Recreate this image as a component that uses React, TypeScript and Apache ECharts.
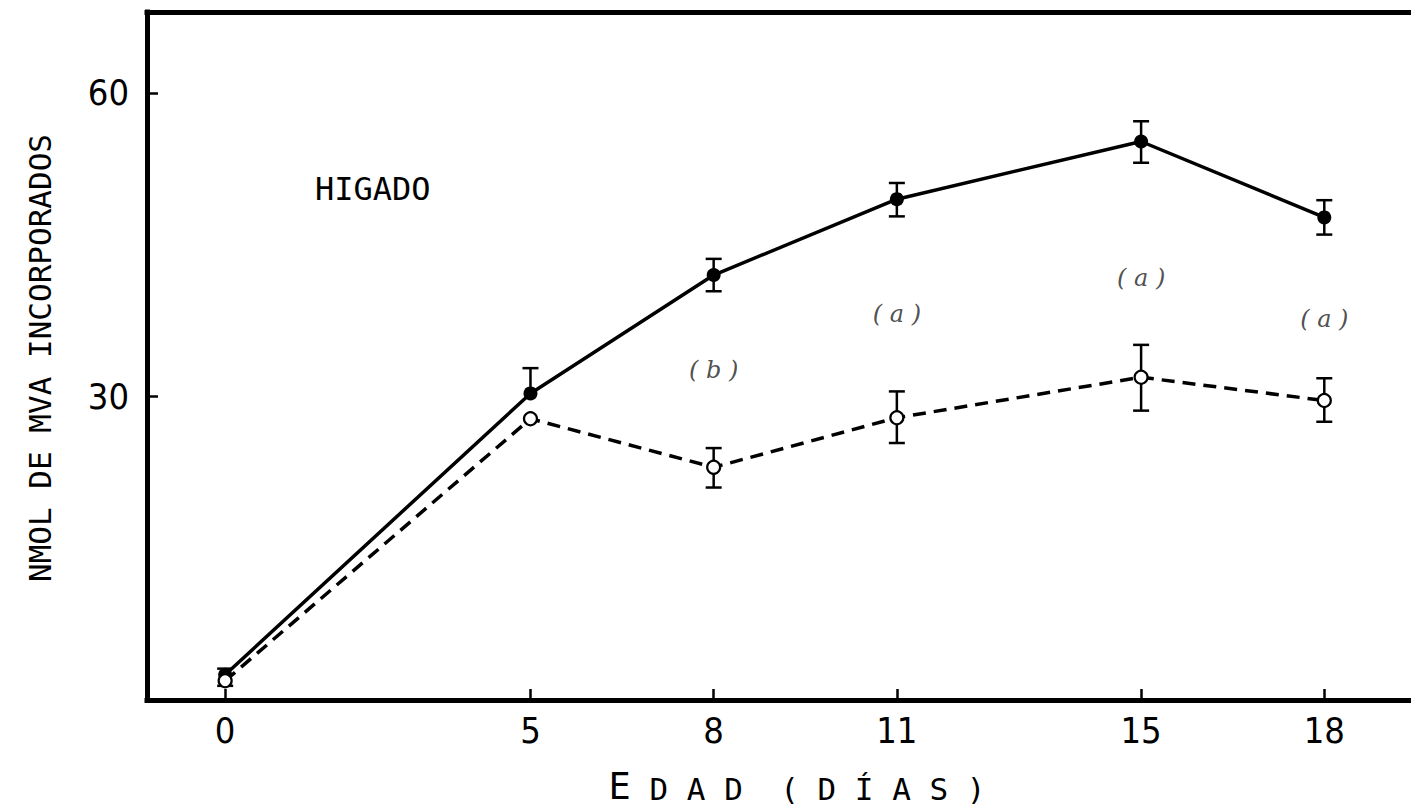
import React, { useEffect, useRef } from "react";
import * as echarts from "echarts";

// ---- data ----
const ages = [0, 5, 8, 11, 15, 18];
const controlValues = [2.5, 30.3, 42.0, 49.5, 55.2, 47.7];
const controlErrUp = [0.6, 2.5, 1.6, 1.6, 2.0, 1.7];
const controlErrDown = [0, 0, 1.6, 1.7, 2.1, 1.7];
const treatedValues = [1.9, 27.8, 23.0, 27.9, 31.9, 29.6];
const treatedErrUp = [0, 0, 1.9, 2.6, 3.2, 2.2];
const treatedErrDown = [0.5, 0, 2.0, 2.5, 3.3, 2.1];
const annotAges = [8, 11, 15, 18];
const annotValues = [32.6, 38.2, 41.7, 37.7];
const annotLabels = ["( b )", "( a )", "( a )", "( a )"];
const xTicks = [0, 5, 8, 11, 15, 18];
const yTicks = [30, 60];
const panelLabel = "HIGADO";
const xTitleFirst = "E";
const xTitleRest = " D A D  ( D Í A S )";
const yTitle = "NMOL DE MVA INCORPORADOS";

const tickFont = "'Liberation Sans Narrow', 'DejaVu Sans Condensed', 'Liberation Sans', sans-serif";
const monoFont = "'DejaVu Sans Mono', 'Liberation Mono', monospace";

function errorBarSeries(values: number[], up: number[], down: number[]) {
  return {
    type: "custom",
    z: 3,
    data: ages.map((a, i) => [a, values[i], up[i], down[i]]),
    encode: { x: 0, y: 1 },
    renderItem: (_params: any, api: any) => {
      const x = api.value(0);
      const y = api.value(1);
      const u = api.value(2);
      const d = api.value(3);
      const mid = api.coord([x, y]);
      const hw = 8;
      const style = { stroke: "#000", lineWidth: 2.5 };
      const children: any[] = [];
      if (u > 0) {
        const t = api.coord([x, y + u]);
        children.push({ type: "line", shape: { x1: t[0], y1: t[1], x2: mid[0], y2: mid[1] }, style });
        children.push({ type: "line", shape: { x1: t[0] - hw, y1: t[1], x2: t[0] + hw, y2: t[1] }, style });
      }
      if (d > 0) {
        const b = api.coord([x, y - d]);
        children.push({ type: "line", shape: { x1: b[0], y1: b[1], x2: mid[0], y2: mid[1] }, style });
        children.push({ type: "line", shape: { x1: b[0] - hw, y1: b[1], x2: b[0] + hw, y2: b[1] }, style });
      }
      return { type: "group", children };
    },
  };
}

export default function App() {
  const ref = useRef<HTMLDivElement>(null);
  useEffect(() => {
    if (!ref.current) return;
    const chart = echarts.init(ref.current, undefined, { renderer: "svg" });
    const axisLine = { show: true, onZero: false, lineStyle: { color: "#000", width: 5, cap: "square" } };
    chart.setOption({
      animation: false,
      backgroundColor: "#fff",
      grid: { left: 147, right: 0, top: 12, bottom: 107, containLabel: false },
      xAxis: [
        {
          type: "value",
          position: "bottom",
          min: -1.28,
          max: 19.42,
          axisLine,
          axisTick: { show: true, inside: true, length: 11, customValues: xTicks, lineStyle: { color: "#000", width: 2.5 } },
          axisLabel: { customValues: xTicks, color: "#000", fontSize: 36, fontFamily: tickFont, margin: 12 },
          splitLine: { show: false },
        },
        {
          type: "value",
          position: "top",
          min: -1.28,
          max: 19.42,
          axisLine,
          axisTick: { show: false },
          axisLabel: { show: false },
          splitLine: { show: false },
        },
      ],
      yAxis: {
        type: "value",
        position: "left",
        min: 0,
        max: 68,
        axisLine,
        axisTick: { show: true, inside: true, length: 11, customValues: yTicks, lineStyle: { color: "#000", width: 2.5 } },
        axisLabel: { customValues: yTicks, color: "#000", fontSize: 36, fontFamily: tickFont, margin: 18 },
        splitLine: { show: false },
      },
      graphic: [
        {
          type: "text",
          left: 315,
          top: 173,
          style: { text: panelLabel, fill: "#000", font: `32px ${monoFont}` },
        },
        {
          type: "text",
          x: 797,
          y: 786,
          style: {
            text: `{e|${xTitleFirst}}{s|${xTitleRest}}`,
            fill: "#000",
            align: "center",
            verticalAlign: "middle",
            rich: {
              e: { fontSize: 37, fontFamily: "'DejaVu Sans Mono', monospace", fill: "#000", verticalAlign: "bottom" },
              s: { fontSize: 31, fontFamily: "'DejaVu Sans Mono', monospace", fill: "#000", verticalAlign: "bottom" },
            },
          },
        },
        {
          type: "text",
          x: 40,
          y: 358,
          rotation: Math.PI / 2,
          style: {
            text: yTitle,
            fill: "#000",
            font: `31px ${monoFont}`,
            align: "center",
            verticalAlign: "middle",
          },
        },
      ],
      series: [
        errorBarSeries(controlValues, controlErrUp, controlErrDown),
        errorBarSeries(treatedValues, treatedErrUp, treatedErrDown),
        {
          type: "line",
          z: 4,
          data: ages.map((a, i) => [a, controlValues[i]]),
          symbol: "circle",
          symbolSize: 14,
          itemStyle: { color: "#000" },
          lineStyle: { color: "#000", width: 3.5 },
        },
        {
          type: "line",
          z: 4,
          data: ages.map((a, i) => [a, treatedValues[i]]),
          symbol: "circle",
          symbolSize: 13,
          itemStyle: { color: "#fff", borderColor: "#000", borderWidth: 2.2 },
          lineStyle: { color: "#000", width: 3.5, type: [13, 8] },
        },
        {
          type: "scatter",
          z: 5,
          data: annotAges.map((a, i) => [a, annotValues[i]]),
          symbolSize: 0,
          label: {
            show: true,
            position: "inside",
            formatter: (p: any) => annotLabels[p.dataIndex],
            color: "#222",
            fontSize: 24,
            fontStyle: "italic",
            fontFamily: "'DejaVu Serif', 'Liberation Serif', serif",
          },
        },
      ],
    });
    return () => chart.dispose();
  }, []);
  return <div ref={ref} style={{ position: "fixed", left: 0, top: 0, width: 1411, height: 807 }} />;
}
